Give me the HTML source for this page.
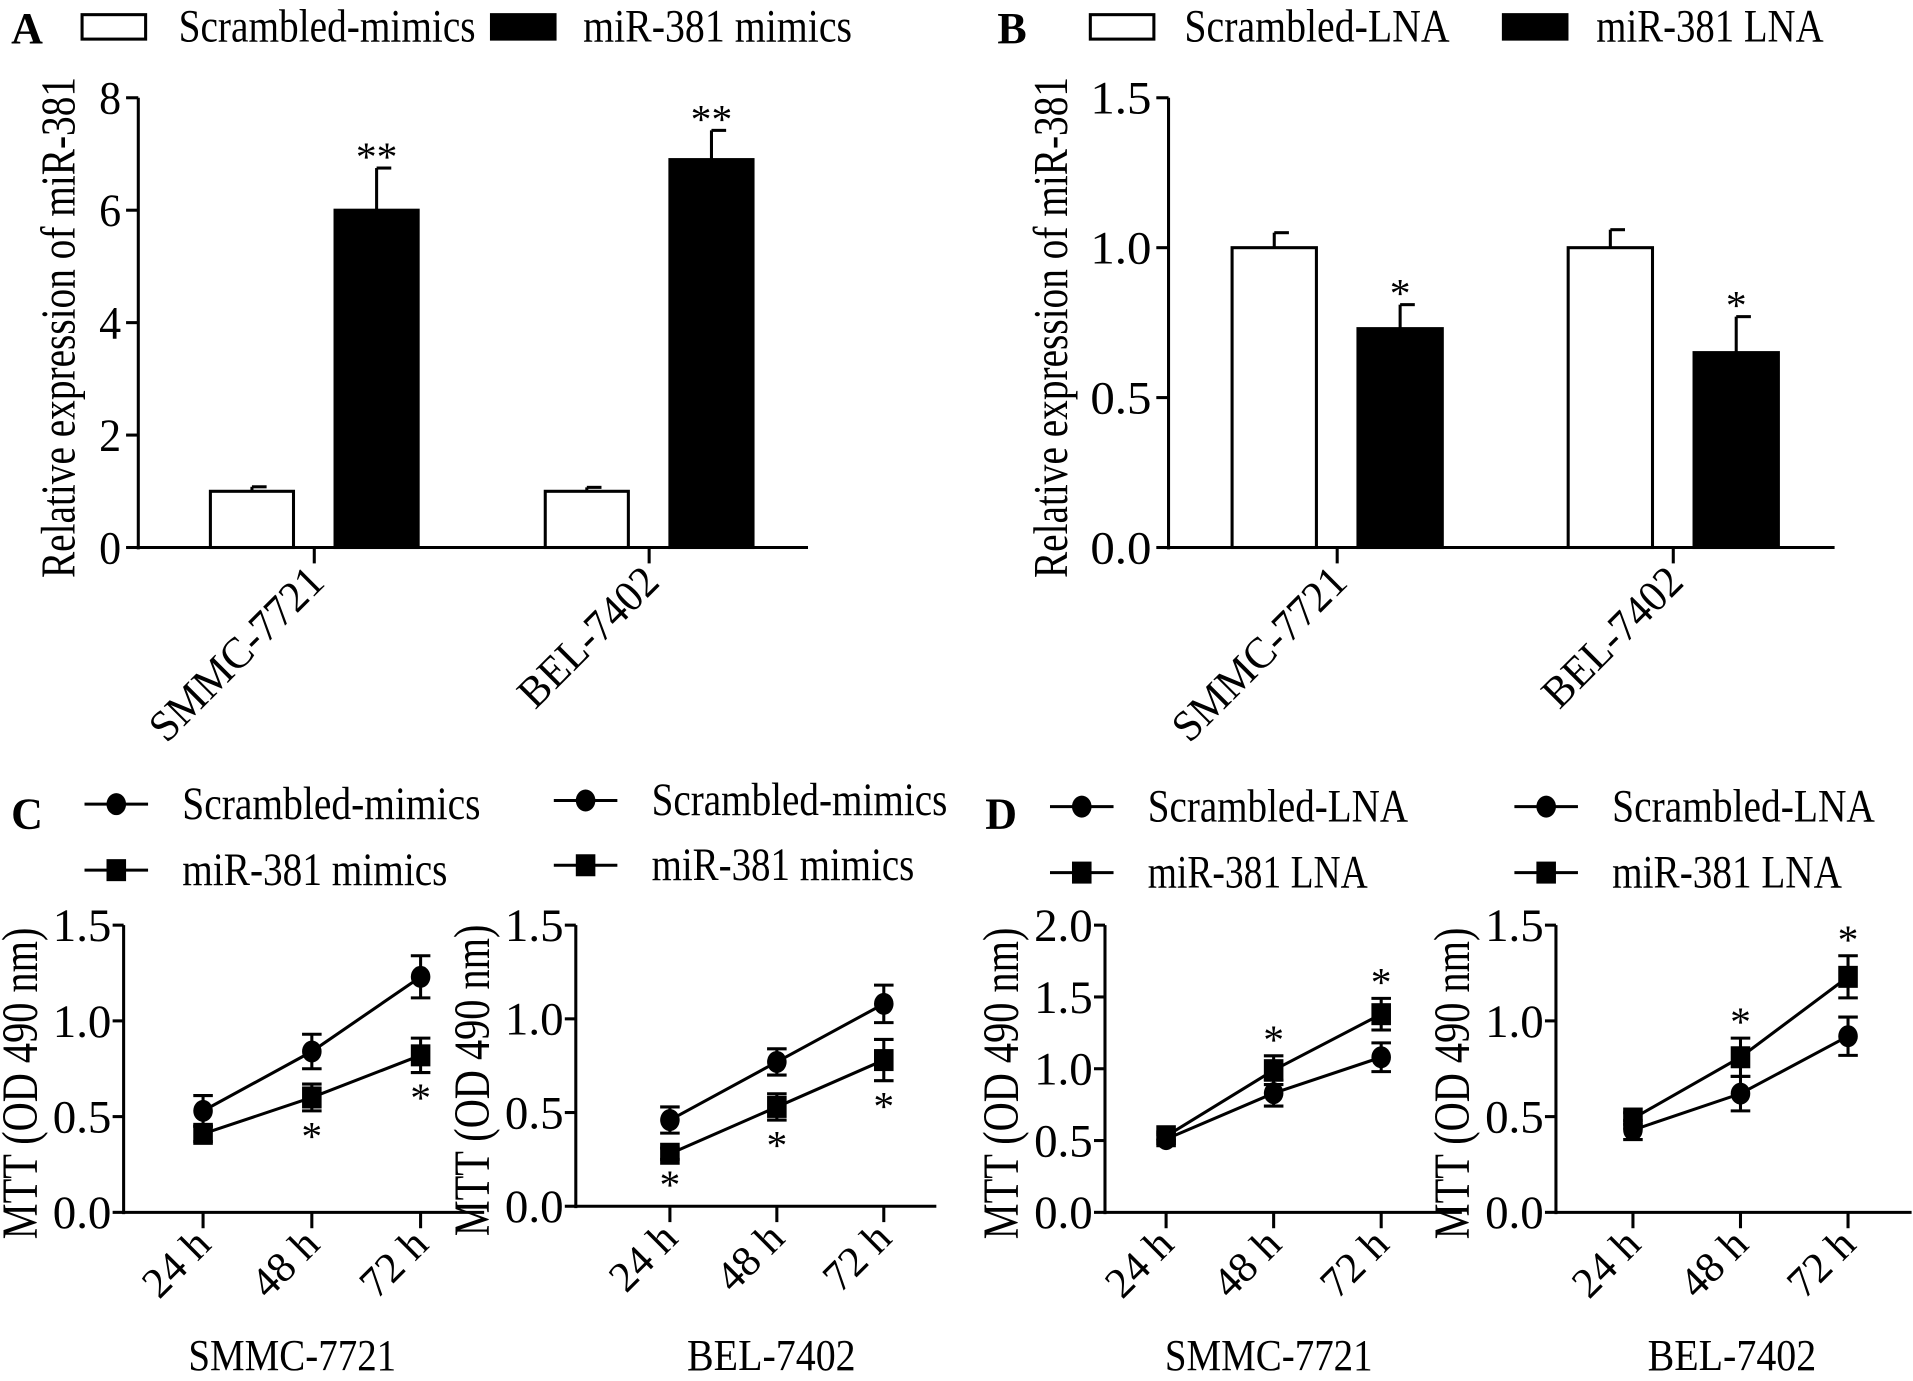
<!DOCTYPE html>
<html><head><meta charset="utf-8"><style>
html,body{margin:0;padding:0;background:#fff}
svg{display:block}
text{font-family:"Liberation Serif",serif;fill:#000}
</style></head><body>
<svg id="fig" width="1913" height="1381" viewBox="0 0 1563 1130" xmlns="http://www.w3.org/2000/svg"></svg>
<script>
// ---- Panel A data
const aCats = ["SMMC-7721", "BEL-7402"];
const aScr = [1.0, 1.0];
const aScrErr = [0.08, 0.07];
const aMir = [6.0, 6.9];
const aMirErr = [0.75, 0.52];
const aStars = ["**", "**"];
const aTicks = [0, 2, 4, 6, 8];
const aTickLabels = ["0", "2", "4", "6", "8"];
// ---- Panel B data
const bCats = ["SMMC-7721", "BEL-7402"];
const bScr = [1.0, 1.0];
const bScrErr = [0.05, 0.06];
const bLna = [0.73, 0.65];
const bLnaErr = [0.08, 0.12];
const bStars = ["*", "*"];
const bTicks = [0, 0.5, 1.0, 1.5];
const bTickLabels = ["0.0", "0.5", "1.0", "1.5"];
// ---- Line charts
const times = ["24 h", "48 h", "72 h"];
const c1Circ = [0.53, 0.84, 1.23];
const c1CircErr = [0.08, 0.09, 0.11];
const c1Sq = [0.41, 0.60, 0.82];
const c1SqErr = [0.04, 0.07, 0.09];
const c1Stars = ["", "*", "*"];
const c2Circ = [0.46, 0.77, 1.08];
const c2CircErr = [0.07, 0.07, 0.10];
const c2Sq = [0.28, 0.53, 0.78];
const c2SqErr = [0.03, 0.07, 0.11];
const c2Stars = ["*", "*", "*"];
const d1Circ = [0.51, 0.83, 1.08];
const d1CircErr = [0.03, 0.09, 0.10];
const d1Sq = [0.53, 0.99, 1.38];
const d1SqErr = [0.03, 0.10, 0.11];
const d1Stars = ["", "*", "*"];
const d2Circ = [0.43, 0.62, 0.92];
const d2CircErr = [0.05, 0.09, 0.10];
const d2Sq = [0.49, 0.81, 1.23];
const d2SqErr = [0.03, 0.10, 0.11];
const d2Stars = ["", "*", "*"];
const ticks15 = [0, 0.5, 1.0, 1.5];
const ticks15Labels = ["0.0", "0.5", "1.0", "1.5"];
const ticks20 = [0, 0.5, 1.0, 1.5, 2.0];
const ticks20Labels = ["0.0", "0.5", "1.0", "1.5", "2.0"];

const NS = "http://www.w3.org/2000/svg";
const svg = document.getElementById("fig");
function el(tag, attrs, parent) {
  const e = document.createElementNS(NS, tag);
  for (const k in attrs) e.setAttribute(k, attrs[k]);
  (parent || svg).appendChild(e);
  return e;
}
function txt(s, attrs, parent) { const t = el("text", attrs, parent); t.textContent = s; return t; }

// ---------- bar chart ----------
function barChart(g, o) {
  const y = v => o.y0 - (v / o.max) * (o.y0 - o.yTop);
  el("line", {x1:o.ax, y1:o.yTop, x2:o.ax, y2:o.y0+1.5, stroke:"#000","stroke-width":2.5}, g);
  el("line", {x1:o.ax, y1:o.y0, x2:o.axEnd, y2:o.y0, stroke:"#000","stroke-width":2.5}, g);
  o.ticks.forEach((t, i) => {
    const ty = y(t);
    const tk = el("line", {x1:o.ax-10, y1:ty, x2:o.ax, y2:ty, stroke:"#000","stroke-width":2.5}, g);
    
    
    const lab = o.tickLabels[i];
    const tl = txt(lab, {x:o.ax-14, y:ty+13, "font-size":38, "text-anchor":"end", textLength:lab.length > 1 ? 50 : 18, lengthAdjust:"spacingAndGlyphs"}, g);
    
    
  });
  o.cats.forEach((c, i) => {
    const gx = o.g0 + i * o.gStep;
    const tk = el("line", {x1:gx, y1:o.y0, x2:gx, y2:o.y0+13, stroke:"#000","stroke-width":2.5}, g);
    
    
    const lab = txt(c, {x:gx+10, y:o.y0+30, "font-size":36, "text-anchor":"end", textLength:c.length > 8 ? 185 : 146, lengthAdjust:"spacingAndGlyphs", transform:`rotate(-45 ${gx+10} ${o.y0+30})`}, g);
    
    
    [[o.s1, o.s1e, "#fff", -1], [o.s2, o.s2e, "#000", 1]].forEach(([arr, err, fill, side], k) => {
      const x0 = side < 0 ? gx - o.gap - o.bw : gx + o.gap;
      const top = y(arr[i]);
      const eb = y(arr[i] + err[i]);
      const cx = x0 + o.bw / 2;
      const ln = el("line", {x1:cx, y1:top, x2:cx, y2:eb, stroke:"#000","stroke-width":2.5}, g);
      
      
      el("line", {x1:cx, y1:eb, x2:cx+12, y2:eb, stroke:"#000","stroke-width":2.5}, g);
      const r = el("rect", {x:x0, y:top, width:o.bw, height:o.y0-top, fill:fill, stroke:"#000","stroke-width":2.5}, g);
      
      
      if (k === 1) {
        const st = txt(o.stars[i], {x:cx, y:eb+2, "font-size":34, "text-anchor":"middle"}, g);
        
        
      }
    });
  });
  const yt = txt(o.ytitle, {x:0, y:0, "font-size":40, "text-anchor":"middle", textLength:o.ytLen, lengthAdjust:"spacingAndGlyphs", transform:`translate(${o.ytX} ${o.ytY}) rotate(-90)`}, g);
  
  
}

// ---------- line chart ----------
function lineChart(g, o) {
  const y = v => o.y0 - (v / o.max) * (o.y0 - o.yTop);
  const x = i => o.x0 + i * o.xStep;
  el("line", {x1:o.ax, y1:o.yTop, x2:o.ax, y2:o.y0+1.5, stroke:"#000","stroke-width":2.5}, g);
  el("line", {x1:o.ax, y1:o.y0, x2:o.axEnd, y2:o.y0, stroke:"#000","stroke-width":2.5}, g);
  o.ticks.forEach((t, i) => {
    const ty = y(t);
    const tk = el("line", {x1:o.ax-9, y1:ty, x2:o.ax, y2:ty, stroke:"#000","stroke-width":2.5}, g);
    
    
    const tl = txt(o.tickLabels[i], {x:o.ax-10, y:ty+13, "font-size":38, "text-anchor":"end", textLength:48, lengthAdjust:"spacingAndGlyphs"}, g);
    
    
  });
  times.forEach((t, i) => {
    const tk = el("line", {x1:x(i), y1:o.y0, x2:x(i), y2:o.y0+13, stroke:"#000","stroke-width":2.5}, g);
    
    
    const lab = txt(t, {x:x(i)+8, y:o.y0+28, "font-size":35, "text-anchor":"end", textLength:62, lengthAdjust:"spacingAndGlyphs", transform:`rotate(-45 ${x(i)+8} ${o.y0+28})`}, g);
    
    
  });
  const series = [[o.circ, o.circErr, "circle"], [o.sq, o.sqErr, "square"]];
  series.forEach(([v, e, m]) => {
    const pl = el("polyline", {points:v.map((d, i) => x(i)+","+y(d)).join(" "), fill:"none", stroke:"#000","stroke-width":2.5}, g);
    
    
    v.forEach((d, i) => {
      const hi = y(d + e[i]), lo = y(d - e[i]);
      el("line", {x1:x(i), y1:hi, x2:x(i), y2:lo, stroke:"#000","stroke-width":2.5}, g);
      el("line", {x1:x(i)-8, y1:hi, x2:x(i)+8, y2:hi, stroke:"#000","stroke-width":2.5}, g);
      el("line", {x1:x(i)-8, y1:lo, x2:x(i)+8, y2:lo, stroke:"#000","stroke-width":2.5}, g);
      let mk;
      if (m === "circle") mk = el("ellipse", {cx:x(i), cy:y(d), rx:8, ry:9, fill:"#000"}, g);
      else mk = el("rect", {x:x(i)-8, y:y(d)-9, width:16, height:18, fill:"#000"}, g);
      
      
    });
  });
  o.stars.forEach((s, i) => {
    if (!s) return;
    const d = o.sq[i], e = o.sqErr[i];
    const sy = o.starBelow ? y(d - e) + 32 : y(d + e) - 2;
    const st = txt(s, {x:x(i), y:sy, "font-size":34, "text-anchor":"middle"}, g);
    
    
  });
  const yt = txt("MTT (OD 490 nm)", {x:0, y:0, "font-size":42, "text-anchor":"middle", textLength:255, lengthAdjust:"spacingAndGlyphs", transform:`translate(${o.ax-71} ${(o.yTop+o.y0)/2+12}) rotate(-90)`}, g);
  
  
  const sub = txt(o.sub, {x:o.subX, y:1121, "font-size":36, "text-anchor":"middle", textLength:o.sub.length > 8 ? 170 : 138, lengthAdjust:"spacingAndGlyphs"}, g);
  
  
}

function panelLetter(s, x0, y0) {
  const t = txt(s, {x:x0, y:y0, "font-size":36, "font-weight":"bold"});
  
  
}
function boxLegend(x0, label, fill, tx, len) {
  const g = el("g", {});
  
  
  el("rect", {x:x0, y:12, width:52, height:20, fill:fill, stroke:"#000","stroke-width":2.5}, g);
  txt(label, {x:tx, y:34, "font-size":38, textLength:len, lengthAdjust:"spacingAndGlyphs"}, g);
}
function lineLegend(x0, yy, label, m, len) {
  const g = el("g", {});
  
  
  el("line", {x1:x0, y1:yy, x2:x0+52, y2:yy, stroke:"#000","stroke-width":2.5}, g);
  if (m === "circle") el("ellipse", {cx:x0+26, cy:yy, rx:8, ry:9, fill:"#000"}, g);
  else el("rect", {x:x0+18, y:yy-9, width:16, height:18, fill:"#000"}, g);
  txt(label, {x:x0+80, y:yy+12, "font-size":38, textLength:len, lengthAdjust:"spacingAndGlyphs"}, g);
}

// Panel A
panelLetter("A", 8, 35);
boxLegend(66, "Scrambled-mimics", "#fff", 145, 243);
boxLegend(401, "miR-381 mimics", "#000", 476, 220);
const gA = el("g", {});  
barChart(gA, {ax:112, axEnd:660, yTop:80, y0:448, max:8, ticks:aTicks, tickLabels:aTickLabels, cats:aCats,
  g0:256, gStep:274, bw:68, gap:17, s1:aScr, s1e:aScrErr, s2:aMir, s2e:aMirErr, stars:aStars,
  ytitle:"Relative expression of miR-381", ytX:60, ytY:268, ytLen:410});
// Panel B
panelLetter("B", 815, 35);
boxLegend(891, "Scrambled-LNA", "#fff", 968, 217);
boxLegend(1229, "miR-381 LNA", "#000", 1305, 186);
const gB = el("g", {});  
barChart(gB, {ax:955, axEnd:1500, yTop:80, y0:448, max:1.5, ticks:bTicks, tickLabels:bTickLabels, cats:bCats,
  g0:1093, gStep:275, bw:69, gap:17, s1:bScr, s1e:bScrErr, s2:bLna, s2e:bLnaErr, stars:bStars,
  ytitle:"Relative expression of miR-381", ytX:872, ytY:268, ytLen:410});
// Panel C
panelLetter("C", 8, 678);
lineLegend(68, 658, "Scrambled-mimics", "circle", 244);
lineLegend(68, 712, "miR-381 mimics", "square", 217);
lineLegend(452, 655, "Scrambled-mimics", "circle", 242);
lineLegend(452, 708, "miR-381 mimics", "square", 215);
const gC1 = el("g", {});  
lineChart(gC1, {ax:100, axEnd:395, yTop:757, y0:992, max:1.5, ticks:ticks15, tickLabels:ticks15Labels,
  x0:165, xStep:89, circ:c1Circ, circErr:c1CircErr, sq:c1Sq, sqErr:c1SqErr, stars:c1Stars, starBelow:true, sub:"SMMC-7721", subX:238});
const gC2 = el("g", {});  
lineChart(gC2, {ax:470, axEnd:765, yTop:757, y0:987, max:1.5, ticks:ticks15, tickLabels:ticks15Labels,
  x0:547, xStep:87.5, circ:c2Circ, circErr:c2CircErr, sq:c2Sq, sqErr:c2SqErr, stars:c2Stars, starBelow:true, sub:"BEL-7402", subX:630});
// Panel D
panelLetter("D", 805, 678);
lineLegend(858, 660, "Scrambled-LNA", "circle", 213);
lineLegend(858, 714, "miR-381 LNA", "square", 180);
lineLegend(1238, 660, "Scrambled-LNA", "circle", 215);
lineLegend(1238, 714, "miR-381 LNA", "square", 188);
const gD1 = el("g", {});  
lineChart(gD1, {ax:903, axEnd:1195, yTop:757, y0:992, max:2.0, ticks:ticks20, tickLabels:ticks20Labels,
  x0:953, xStep:88, circ:d1Circ, circErr:d1CircErr, sq:d1Sq, sqErr:d1SqErr, stars:d1Stars, starBelow:false, sub:"SMMC-7721", subX:1037});
const gD2 = el("g", {});  
lineChart(gD2, {ax:1272, axEnd:1563, yTop:757, y0:992, max:1.5, ticks:ticks15, tickLabels:ticks15Labels,
  x0:1335, xStep:88, circ:d2Circ, circErr:d2CircErr, sq:d2Sq, sqErr:d2SqErr, stars:d2Stars, starBelow:false, sub:"BEL-7402", subX:1416});
</script>
</body></html>
